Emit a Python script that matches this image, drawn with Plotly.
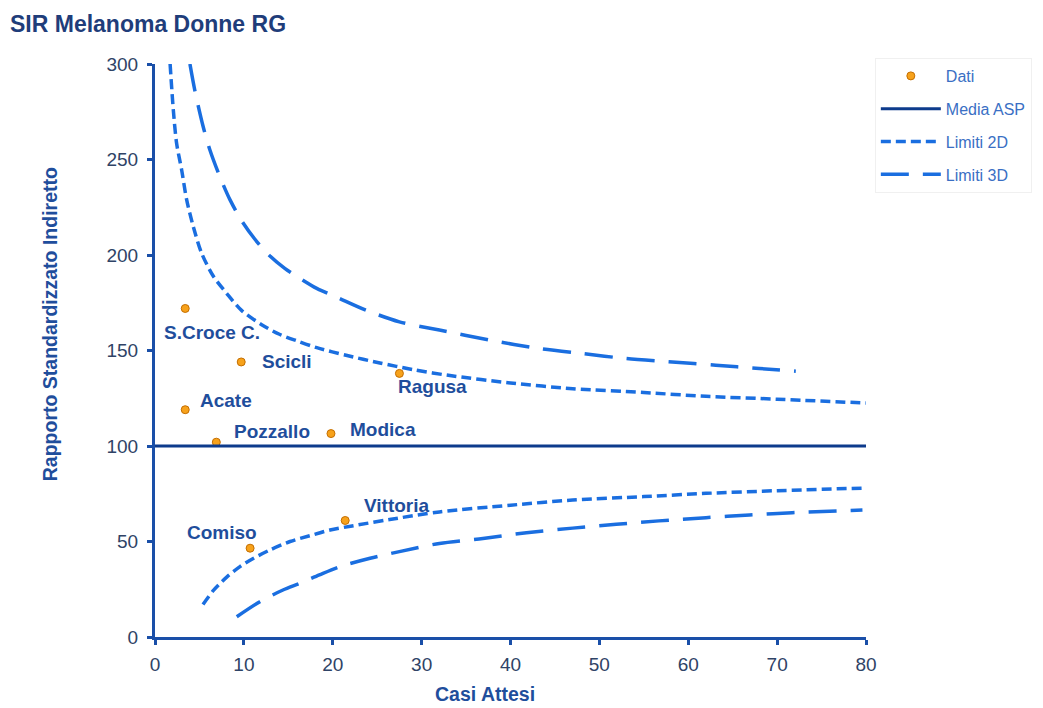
import plotly.graph_objects as go

# ---- data ----
comuni = ["S.Croce C.", "Scicli", "Ragusa", "Acate", "Pozzallo", "Modica", "Comiso", "Vittoria"]
casi_attesi = [3.4, 9.7, 27.5, 3.4, 6.9, 19.8, 10.7, 21.4]
sir = [172, 144, 138, 119, 102, 106.5, 46.5, 61]

media_x = [0, 80]
media_y = [100, 100]

lim2_up_x = [1.7, 2.06, 2.43, 3.0, 3.56, 4.3, 5.24, 6.55, 8.05, 9.74, 12.0, 14.0, 16.0, 18.2, 21.5,
             25.3, 29, 33, 40, 47, 55, 62, 70, 80]
lim2_up_y = [300, 276, 258.5, 244.5, 229, 215, 201, 189, 180, 171, 163.5, 158.5, 155, 151.5, 147.5,
             143.5, 140, 137, 133, 130, 128, 126, 124.5, 122.5]
lim2_lo_x = [5.4, 6.6, 8.1, 9.6, 11, 12.9, 15.2, 17.4, 19.7, 22, 26.4, 32, 40, 47, 55, 62, 70, 80]
lim2_lo_y = [17, 24.5, 31.5, 37, 41, 45.5, 50, 53, 56, 58, 61.5, 65.5, 69, 71.7, 73.5, 75.2, 76.6, 78]

lim3_up_x = [3.93, 4.49, 5.43, 6.18, 7.3, 8.43, 9.74, 11.2, 12.7, 14.6, 16.4, 18.2, 20.4, 23.8, 27.5, 32,
             37.6, 43.3, 48.1, 53, 58.2, 63.1, 68, 72.1]
lim3_up_y = [300, 286, 267, 255, 241, 229, 218, 208.5, 200.5, 193, 187.5, 182.5, 178, 171, 165, 160.7,
             155.5, 151, 148.4, 145.8, 144, 142.3, 140.6, 139.2]
lim3_lo_x = [9.2, 11.8, 14.4, 16.3, 18.5, 20.8, 24.2, 27.5, 32, 36.9, 41.8, 47, 51.9, 56.7, 62,
             66.9, 71.7, 79.6]
lim3_lo_y = [10.6, 18.5, 24.6, 28.1, 32.5, 36.8, 41.2, 44.7, 49, 51.6, 54.6, 57, 59, 60.8, 62.5,
             63.9, 65.1, 66.5]

x_ticks = [0, 10, 20, 30, 40, 50, 60, 70, 80]
y_ticks = [0, 50, 100, 150, 200, 250, 300]

# ---- styles ----
FONT = "Liberation Sans, Arial, sans-serif"
NAVY = "#0d3b8c"
BLUE = "#1a6ee0"
LABEL = "#1f4e9c"
AXIS = "#1a4fa8"
TICK = "#2f4366"

# label placement: (xanchor, xshift px, yshift px)
label_pos = {
    "S.Croce C.": ("center", 27, -24),
    "Scicli": ("left", 19, 0),
    "Ragusa": ("left", -3, -13),
    "Acate": ("left", 13, 9),
    "Pozzallo": ("left", 16, 11),
    "Modica": ("left", 17, 4),
    "Comiso": ("center", -28, 16),
    "Vittoria": ("left", 17, 15),
}

fig = go.Figure()

fig.add_trace(go.Scatter(
    x=casi_attesi, y=sir, mode="markers", name="Dati", legendgroup="a",
    marker=dict(color="#f7a21b", size=8, line=dict(color="#c46e00", width=1)),
))
fig.add_trace(go.Scatter(
    x=media_x, y=media_y, mode="lines", name="Media ASP", legendgroup="b",
    line=dict(color=NAVY, width=3),
))
fig.add_trace(go.Scatter(
    x=lim2_up_x, y=lim2_up_y, mode="lines", name="Limiti 2D", legendgroup="c",
    line=dict(color=BLUE, width=3.5, dash="10px,5px", shape="spline", smoothing=0.8),
))
fig.add_trace(go.Scatter(
    x=lim2_lo_x, y=lim2_lo_y, mode="lines", name="Limiti 2D", legendgroup="c", showlegend=False,
    line=dict(color=BLUE, width=3.5, dash="10px,5px", shape="spline", smoothing=0.8),
))
fig.add_trace(go.Scatter(
    x=lim3_up_x, y=lim3_up_y, mode="lines", name="Limiti 3D", legendgroup="d",
    line=dict(color=BLUE, width=3.5, dash="28px,14px", shape="spline", smoothing=0.8),
))
fig.add_trace(go.Scatter(
    x=lim3_lo_x, y=lim3_lo_y, mode="lines", name="Limiti 3D", legendgroup="d", showlegend=False,
    line=dict(color=BLUE, width=3.5, dash="28px,14px", shape="spline", smoothing=0.8),
))

annotations = []
for name, cx, cy in zip(comuni, casi_attesi, sir):
    xa, xs, ys = label_pos[name]
    annotations.append(dict(
        x=cx, y=cy, xref="x", yref="y", text=name, showarrow=False,
        xanchor=xa, yanchor="middle", xshift=xs, yshift=ys,
        font=dict(family=FONT, size=19, color=LABEL, weight="bold"),
    ))

annotations.append(dict(
    x=0.4635, y=-0.1, xref="paper", yref="paper", text="Casi Attesi", showarrow=False,
    xanchor="center", yanchor="middle",
    font=dict(family=FONT, size=19.5, color=LABEL, weight="bold"),
))
annotations.append(dict(
    x=-0.1475, y=0.546, xref="paper", yref="paper", text="Rapporto Standardizzato Indiretto",
    showarrow=False, textangle=-90, xanchor="center", yanchor="middle",
    font=dict(family=FONT, size=19.5, color=LABEL, weight="bold"),
))

# the page body has an 8px margin, so the figure is sized to fit the window
W, H = 1035, 700
fig.update_layout(
    width=W, height=H,
    margin=dict(l=147, r=176, t=56, b=71),
    paper_bgcolor="white", plot_bgcolor="white",
    font=dict(family=FONT, color=TICK),
    title=dict(
        text="<b>SIR Melanoma Donne RG</b>", x=2 / W, xanchor="left", xref="container",
        y=1 - 16 / H, yanchor="middle", yref="container",
        font=dict(family=FONT, size=23, color="#1f3d7a"),
    ),
    xaxis=dict(
        range=[0, 80], tickvals=x_ticks, showgrid=False, zeroline=False,
        showline=True, linecolor=AXIS, linewidth=3,
        ticks="outside", ticklen=5, tickwidth=3, tickcolor=AXIS, ticklabelstandoff=3,
        tickfont=dict(family=FONT, size=19, color=TICK),
    ),
    yaxis=dict(
        range=[0, 300], tickvals=y_ticks, showgrid=False, zeroline=False,
        showline=True, linecolor=AXIS, linewidth=3,
        ticks="outside", ticklen=5, tickwidth=3, tickcolor=AXIS, ticklabelstandoff=5,
        tickfont=dict(family=FONT, size=19, color=TICK),
    ),
    legend=dict(
        x=1.011, y=1.0105, xanchor="left", yanchor="top",
        font=dict(family=FONT, size=16, color="#3a6fc4"),
        bordercolor="#f0f0f0", borderwidth=1, bgcolor="white",
        tracegroupgap=9, itemwidth=60, traceorder="grouped",
    ),
    annotations=annotations,
    showlegend=True,
)

fig.write_html("out.html")
